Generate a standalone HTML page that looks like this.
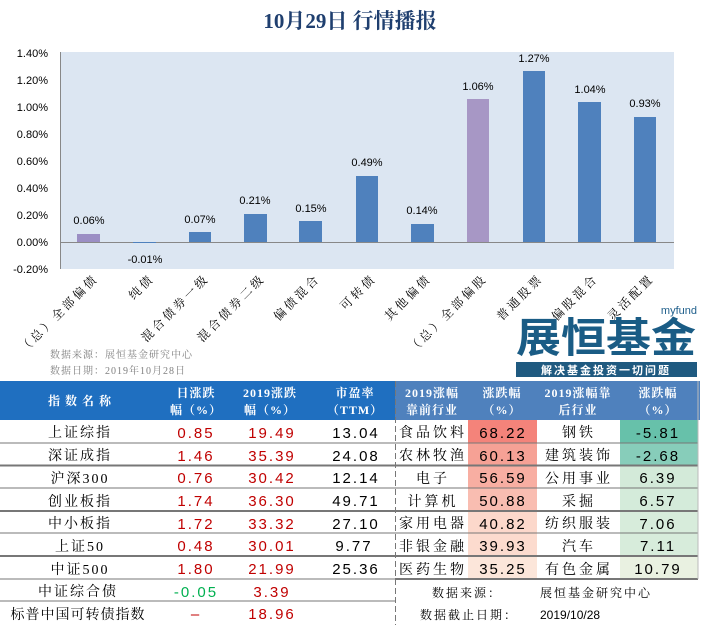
<!DOCTYPE html>
<html><head><meta charset="utf-8"><style>
body{margin:0;background:#fff;}
svg{display:block}
.t{font-family:"Liberation Sans","Noto Sans CJK SC",sans-serif;}
.s{font-family:"Liberation Serif","Noto Serif CJK SC",serif;}
</style></head><body>
<svg width="701" height="625" viewBox="0 0 701 625" xmlns="http://www.w3.org/2000/svg">
<text x="350" y="28" text-anchor="middle" class="s" font-size="21" font-weight="bold" fill="#1F3F6F">10月29日  行情播报</text>
<rect x="60" y="52" width="614" height="217" fill="#DCE6F2"/>
<line x1="60.5" y1="52" x2="60.5" y2="269" stroke="#888"/>
<line x1="60" y1="242.5" x2="674" y2="242.5" stroke="#888"/>
<g class="t" font-size="11" fill="#000" text-anchor="end">
<text x="48" y="57">1.40%</text><text x="48" y="84">1.20%</text><text x="48" y="111">1.00%</text><text x="48" y="138">0.80%</text><text x="48" y="165">0.60%</text><text x="48" y="192">0.40%</text><text x="48" y="219">0.20%</text><text x="48" y="246">0.00%</text><text x="48" y="273">-0.20%</text>
</g>
<g>
<rect x="77" y="234" width="23" height="8" fill="#9B8EC4"/>
<rect x="133" y="242" width="23" height="1" fill="#4F81BD"/>
<rect x="189" y="232" width="22" height="10" fill="#4F81BD"/>
<rect x="244" y="214" width="23" height="28" fill="#4F81BD"/>
<rect x="299" y="221" width="23" height="21" fill="#4F81BD"/>
<rect x="356" y="176" width="22" height="66" fill="#4F81BD"/>
<rect x="411" y="224" width="23" height="18" fill="#4F81BD"/>
<rect x="467" y="99" width="22" height="143" fill="#A797C5"/>
<rect x="523" y="71" width="22" height="171" fill="#4F81BD"/>
<rect x="578" y="102" width="23" height="140" fill="#4F81BD"/>
<rect x="634" y="117" width="22" height="125" fill="#4F81BD"/>
</g>
<g class="t" font-size="11" fill="#000" text-anchor="middle">
<text x="89" y="224">0.06%</text><text x="145" y="263">-0.01%</text><text x="200" y="223">0.07%</text><text x="255" y="204">0.21%</text><text x="311" y="212">0.15%</text><text x="367" y="166">0.49%</text><text x="422" y="214">0.14%</text><text x="478" y="90">1.06%</text><text x="534" y="62">1.27%</text><text x="590" y="93">1.04%</text><text x="645" y="107">0.93%</text>
</g>
<g class="s" font-size="12" fill="#000" text-anchor="end" letter-spacing="3">
<text transform="translate(99,279) rotate(-45)">（总）全部偏债</text>
<text transform="translate(155,279) rotate(-45)">纯债</text>
<text transform="translate(210,279) rotate(-45)">混合债券一级</text>
<text transform="translate(266,279) rotate(-45)">混合债券二级</text>
<text transform="translate(321,279) rotate(-45)">偏债混合</text>
<text transform="translate(377,279) rotate(-45)">可转债</text>
<text transform="translate(432,279) rotate(-45)">其他偏债</text>
<text transform="translate(488,279) rotate(-45)">（总）全部偏股</text>
<text transform="translate(544,279) rotate(-45)">普通股票</text>
<text transform="translate(599,279) rotate(-45)">偏股混合</text>
<text transform="translate(655,279) rotate(-45)">灵活配置</text>
</g>
<g class="s" font-size="10" fill="#7F7F7F" letter-spacing="1">
<text x="50" y="358">数据来源：展恒基金研究中心</text>
<text x="50" y="374">数据日期：2019年10月28日</text>
</g>
<text x="697" y="314" text-anchor="end" class="t" font-size="11" fill="#1F5F8B">myfund</text>
<text x="606" y="352" text-anchor="middle" class="t" font-size="41" font-weight="bold" fill="#1A5C85" textLength="180" lengthAdjust="spacingAndGlyphs">展恒基金</text>
<rect x="516" y="362" width="181" height="15" fill="#1F5A80"/>
<text x="606" y="374" text-anchor="middle" class="t" font-size="11" font-weight="bold" fill="#fff" letter-spacing="2">解决基金投资一切问题</text>
<rect x="0" y="381" width="395" height="39" fill="#1F6FC0"/>
<rect x="395" y="381" width="305" height="39" fill="#4F81BD"/>
<g class="s" font-size="12" font-weight="bold" fill="#fff" text-anchor="middle" letter-spacing="1">
<text x="80" y="405">指 数 名 称</text>
<text x="196" y="397">日涨跌</text><text x="196" y="414">幅（%）</text>
<text x="270" y="397">2019涨跌</text><text x="270" y="414">幅（%）</text>
<text x="355" y="397">市盈率</text><text x="355" y="414">（TTM）</text>
<text x="432" y="397">2019涨幅</text><text x="432" y="414">靠前行业</text>
<text x="502" y="397">涨跌幅</text><text x="502" y="414">（%）</text>
<text x="578" y="397">2019涨幅靠</text><text x="578" y="414">后行业</text>
<text x="658" y="397">涨跌幅</text><text x="658" y="414">（%）</text>
</g>
<g>
<rect x="468" y="420" width="69" height="23" fill="#F4837A"/>
<rect x="468" y="443" width="69" height="22" fill="#F6A195"/>
<rect x="468" y="465" width="69" height="23" fill="#F8AEA2"/>
<rect x="468" y="488" width="69" height="23" fill="#F9BDB1"/>
<rect x="468" y="511" width="69" height="22" fill="#FCD8CB"/>
<rect x="468" y="533" width="69" height="23" fill="#FCDBCE"/>
<rect x="468" y="556" width="69" height="23" fill="#FCE6DA"/>
<rect x="620" y="420" width="78" height="23" fill="#67C1AA"/>
<rect x="620" y="443" width="78" height="22" fill="#87CDBA"/>
<rect x="620" y="465" width="78" height="23" fill="#D3EAD9"/>
<rect x="620" y="488" width="78" height="23" fill="#D4EBDA"/>
<rect x="620" y="511" width="78" height="22" fill="#D7ECDB"/>
<rect x="620" y="533" width="78" height="23" fill="#D7ECDB"/>
<rect x="620" y="556" width="78" height="23" fill="#E9F1E1"/>
</g>
<g stroke="#777" stroke-width="1">
<line x1="0" y1="443" x2="698" y2="443"/><line x1="0" y1="465.5" x2="698" y2="465.5" stroke-width="2"/>
<line x1="0" y1="488" x2="698" y2="488"/><line x1="0" y1="511" x2="698" y2="511" stroke-width="2"/>
<line x1="0" y1="533" x2="698" y2="533"/><line x1="0" y1="556" x2="698" y2="556" stroke-width="2"/>
<line x1="0" y1="579" x2="395" y2="579"/><line x1="395" y1="579" x2="698" y2="579" stroke-width="2"/>
<line x1="0" y1="601" x2="395" y2="601"/>
<line x1="395.5" y1="381" x2="395.5" y2="625" stroke-dasharray="6,3"/>
<line x1="698" y1="381" x2="698" y2="579" stroke="#bbb"/>
</g>
<g class="s" font-size="14" fill="#000" text-anchor="middle" letter-spacing="2">
<text x="80" y="437">上证综指</text><text x="80" y="460">深证成指</text><text x="80" y="483">沪深300</text><text x="80" y="506">创业板指</text><text x="80" y="528">中小板指</text><text x="80" y="551">上证50</text><text x="80" y="574">中证500</text><text x="78" y="596">中证综合债</text>
</g>
<text x="78" y="619" class="s" font-size="14" text-anchor="middle" letter-spacing="1">标普中国可转债指数</text>
<g class="t" font-size="15" text-anchor="middle" letter-spacing="2">
<g fill="#C00000">
<text x="196" y="438">0.85</text><text x="196" y="461">1.46</text><text x="196" y="483">0.76</text><text x="196" y="506">1.74</text><text x="196" y="529">1.72</text><text x="196" y="551">0.48</text><text x="196" y="574">1.80</text><text x="196" y="619">–</text>
<text x="272" y="438">19.49</text><text x="272" y="461">35.39</text><text x="272" y="483">30.42</text><text x="272" y="506">36.30</text><text x="272" y="529">33.32</text><text x="272" y="551">30.01</text><text x="272" y="574">21.99</text><text x="272" y="597">3.39</text><text x="272" y="619">18.96</text>
</g>
<text x="196" y="597" fill="#00B050">-0.05</text>
<g fill="#000">
<text x="356" y="438">13.04</text><text x="356" y="461">24.08</text><text x="356" y="483">12.14</text><text x="356" y="506">49.71</text><text x="356" y="529">27.10</text><text x="354" y="551">9.77</text><text x="356" y="574">25.36</text>
<text x="503" y="438">68.22</text><text x="503" y="461">60.13</text><text x="503" y="483">56.59</text><text x="503" y="506">50.88</text><text x="503" y="529">40.82</text><text x="503" y="551">39.93</text><text x="503" y="574">35.25</text>
<text x="658" y="438">-5.81</text><text x="658" y="461">-2.68</text><text x="658" y="483">6.39</text><text x="658" y="506">6.57</text><text x="658" y="529">7.06</text><text x="658" y="551">7.11</text><text x="658" y="574">10.79</text>
</g>
</g>
<g class="s" font-size="14" fill="#000" text-anchor="middle" letter-spacing="3">
<text x="433" y="437">食品饮料</text><text x="433" y="460">农林牧渔</text><text x="433" y="483">电子</text><text x="433" y="506">计算机</text><text x="433" y="528">家用电器</text><text x="433" y="551">非银金融</text><text x="433" y="574">医药生物</text>
<text x="579" y="437">钢铁</text><text x="579" y="460">建筑装饰</text><text x="579" y="483">公用事业</text><text x="579" y="506">采掘</text><text x="579" y="528">纺织服装</text><text x="579" y="551">汽车</text><text x="579" y="574">有色金属</text>
</g>
<g class="s" font-size="12" fill="#000" letter-spacing="2">
<text x="432" y="597">数据来源：</text><text x="540" y="597">展恒基金研究中心</text>
<text x="420" y="619">数据截止日期：</text>
</g>
<text x="540" y="619" class="t" font-size="12">2019/10/28</text>
</svg>
</body></html>
